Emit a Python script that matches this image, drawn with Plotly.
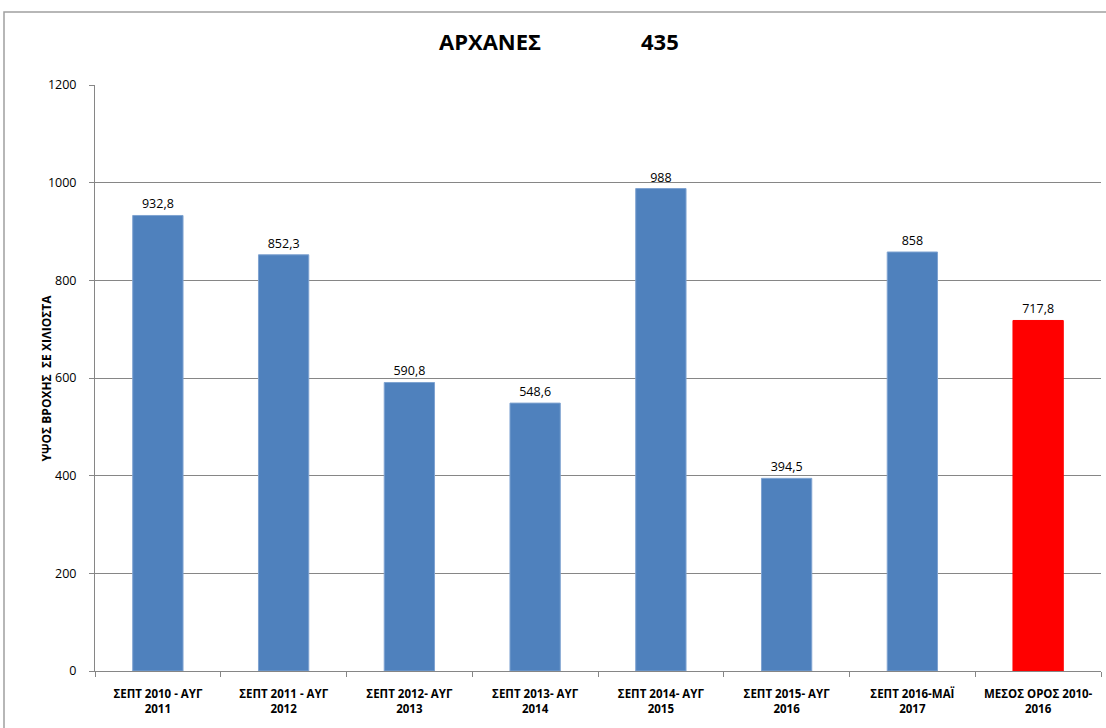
import plotly.graph_objects as go

categories = ["ΣΕΠΤ 2010 - ΑΥΓ<br>2011", "ΣΕΠΤ 2011 - ΑΥΓ<br>2012", "ΣΕΠΤ 2012- ΑΥΓ<br>2013",
              "ΣΕΠΤ 2013- ΑΥΓ<br>2014", "ΣΕΠΤ 2014- ΑΥΓ<br>2015", "ΣΕΠΤ 2015- ΑΥΓ<br>2016",
              "ΣΕΠΤ 2016-ΜΑΪ<br>2017", "ΜΕΣΟΣ ΟΡΟΣ 2010-<br>2016"]
values = [932.8, 852.3, 590.8, 548.6, 988, 394.5, 858, 717.8]
labels = ["932,8", "852,3", "590,8", "548,6", "988", "394,5", "858", "717,8"]
colors = ["#4F81BD"] * 7 + ["#FF0000"]
line_colors = ["#7FA3D1"] * 7 + ["#FF0000"]

font = "Open Sans, Noto Sans, sans-serif"

fig = go.Figure(go.Bar(
    x=categories, y=values, text=labels, textposition="outside",
    textfont=dict(size=12.5, color="#000000", family=font),
    marker=dict(color=colors, line=dict(color=line_colors, width=1)),
    width=0.4, cliponaxis=False,
))

L, R, T, B = 95, 5, 85, 57
W, H = 1106, 728
pw, ph = W - L - R, H - T - B

fig.update_layout(
    width=W, height=H, margin=dict(l=L, r=R, t=T, b=B),
    paper_bgcolor="white", plot_bgcolor="white", showlegend=False,
    font=dict(family=font, color="#000000"),
    xaxis=dict(showgrid=False, showline=True, linecolor="#868686", linewidth=1,
               ticks="outside", tickson="boundaries", ticklen=5, tickcolor="#868686",
               ticklabelstandoff=12,
               tickfont=dict(size=11.5, family=font, color="#000000", weight="bold")),
    yaxis=dict(range=[0, 1200], dtick=200, showgrid=True, gridcolor="#868686", gridwidth=1,
               showline=True, linecolor="#868686", ticks="outside", ticklen=5, tickcolor="#868686",
               ticklabelstandoff=10,
               tickfont=dict(size=12.5, family=font, color="#000000"),
               zeroline=False),
    annotations=[
        dict(text="<b>ΑΡΧΑΝΕΣ</b>", x=(490 - L) / pw, y=1 + (T - 41) / ph, yanchor="middle",
             xref="paper", yref="paper",
             showarrow=False, font=dict(size=22, family=font, color="#000000")),
        dict(text="<b>435</b>", x=(660 - L) / pw, y=1 + (T - 41) / ph, yanchor="middle",
             xref="paper", yref="paper",
             showarrow=False, font=dict(size=22, family=font, color="#000000")),
        dict(text="<b>ΥΨΟΣ ΒΡΟΧΗΣ  ΣΕ ΧΙΛΙΟΣΤΑ</b>", x=(35 - L) / pw, y=0.5, xref="paper", yref="paper",
             textangle=-90, showarrow=False, font=dict(size=12, family=font, color="#000000")),
    ],
    shapes=[dict(type="rect", xref="paper", yref="paper",
                 x0=(4 - L) / pw, x1=(1110 - L) / pw,
                 y0=-(B + 5) / ph, y1=1 + (T - 12) / ph,
                 line=dict(color="#A0A0A0", width=1.5))],
)

fig.write_html("out.html", config={"displayModeBar": False},
               post_script="document.body.style.margin='0px';document.body.style.overflow='hidden';")
